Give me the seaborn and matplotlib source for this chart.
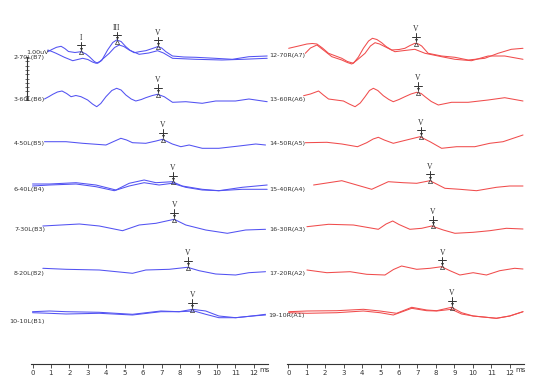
import matplotlib
matplotlib.use("Agg")
import matplotlib.pyplot as plt
import seaborn as sns
import pandas as pd

# ---------------- data (time in ms, amplitude in display units, 1.00 uV = 43) ----------------
left_labels = ["2-70L(B7)", "3-60L(B6)", "4-50L(B5)", "6-40L(B4)", "7-30L(B3)", "8-20L(B2)", "10-10L(B1)"]
right_labels = ["12-70R(A7)", "13-60R(A6)", "14-50R(A5)", "15-40R(A4)", "16-30R(A3)", "17-20R(A2)", "19-10R(A1)"]
tick_ms = list(range(13))

# left ear
b7_time_1 = [0.83, 1.05, 1.3, 1.55, 1.75, 1.95, 2.3, 2.63, 2.9, 3.1, 3.35, 3.53, 3.75, 4.07, 4.35, 4.56, 4.8,
             5.06, 5.3, 5.51, 5.85, 6.14, 6.5, 6.78, 7.0, 7.23, 7.59, 8.2, 8.85, 9.9, 10.83, 11.73, 12.72]
b7_amp_1 = [6.3, 8.5, 10.7, 11.7, 9.5, 6.5, 5.5, 6.3, 4, 1, -3.5, -5.3, -2.5, 8, 15.5, 18, 16.5,
            11.3, 7.5, 5.3, 6.5, 7.3, 9.5, 11.3, 10, 6.3, 2, 1, 0.7, -0.3, -1.3, 1.3, 2]
b7_time_2 = [0.83, 1.05, 1.28, 1.73, 2.18, 2.72, 3.0, 3.25, 3.45, 3.65, 3.9, 4.16, 4.45, 4.70, 4.95, 5.24,
             5.78, 6.3, 6.78, 7.1, 7.59, 8.85, 10.27, 11.4, 12.72]
b7_amp_2 = [8, 6.5, 4.7, 0.7, -2.7, -0.3, -1.5, -4, -5.3, -3.5, 0.5, 4.7, 10.5, 13, 11.5, 8,
            3.7, 5, 7.3, 5, -0.3, -1.3, -2, -1.3, -0.3]
b6_time = [0.65, 0.9, 1.10, 1.35, 1.60, 1.85, 2.09, 2.35, 2.63, 2.99, 3.25, 3.48, 3.7, 3.98, 4.3, 4.56, 4.8,
           5.06, 5.35, 5.6, 5.9, 6.14, 6.5, 6.78, 7.14, 7.59, 8.31, 9.2, 9.93, 11.0, 11.73, 12.72]
b6_amp = [1, 3.5, 5.7, 8, 9, 6.5, 3.3, 4.5, 3.3, 0, -4, -6.7, -3.5, 3.3, 9.5, 11.7, 10,
          5, 1, -1, 0.5, 2.3, 4.5, 5.7, 3.3, -2.3, -1.7, -3.3, -1, -1, 1, -1.7]
b5_time = [0.65, 1.82, 2.72, 3.98, 4.4, 4.79, 5.1, 5.42, 6.14, 6.7, 7.05, 7.58, 8.04, 8.49, 9.2, 10.1, 11.2, 12.1, 12.63]
b5_amp = [2.3, 2.3, 0.7, -1, 2.5, 5.7, 4, 1.3, 0.7, 3, 4.7, 0, -2.7, -1, -4.3, -4.3, -2, 0, -1]
b4_time_1 = [0, 0.92, 2.36, 3.44, 4.52, 5.24, 6.05, 6.69, 7.58, 8.12, 9.2, 10.1, 11.37, 12.72]
b4_amp_1 = [6, 6, 7.3, 5, 0, 6.7, 10, 7.3, 8.3, 4, 0.7, -0.7, 2.7, 5]
b4_time_2 = [0, 0.92, 2.36, 3.44, 4.43, 5.24, 6.05, 6.86, 7.58, 8.3, 9.2, 10.1, 11.37, 12.72]
b4_amp_2 = [4, 5, 6, 3.3, -0.7, 4, 7.3, 5, 6.7, 2.7, 0, -0.7, 0.7, 0.7]
b3_time = [0.56, 2.54, 3.62, 4.88, 5.78, 6.69, 7.68, 8.31, 9.39, 10.56, 11.55, 12.63]
b3_amp = [4, 6, 4, -0.7, 5, 6.7, 10.7, 5, 0, -3.3, 0, 0.7]
b2_time = [0.56, 1.82, 3.62, 5.42, 6.14, 7.41, 8.4, 9.03, 9.93, 11.01, 11.73, 12.63]
b2_amp = [4.7, 3.7, 3, -0.3, 3, 3.7, 5.7, 2.3, -1, -2, 0.3, 1.3]
b1_time_1 = [0, 0.92, 1.82, 3.62, 5.42, 6.96, 7.95, 8.67, 9.39, 10.1, 11.01, 11.91, 12.63]
b1_amp_1 = [9.3, 10, 9.3, 8.7, 6.7, 10, 9.3, 11.7, 10, 5, 3.3, 5, 6.7]
b1_time_2 = [0, 0.92, 1.82, 3.62, 5.42, 6.96, 7.95, 8.76, 9.39, 10.1, 11.01, 11.91, 12.63]
b1_amp_2 = [8.3, 7.7, 7, 7.7, 6, 9.3, 9.3, 10, 6.7, 3.3, 3.3, 5, 6]

# right ear
a7_time_1 = [0.02, 0.56, 1.01, 1.3, 1.55, 1.85, 2.18, 2.9, 3.2, 3.53, 3.8, 4.07, 4.35, 4.56, 4.8, 5.06,
             5.3, 5.6, 6.0, 6.32, 6.6, 6.86, 7.05, 7.23, 7.58, 8.31, 9.03, 9.75, 10.65, 11.37, 12.09, 12.72]
a7_amp_1 = [6.7, 9, 11, 11.5, 11, 7, 1.7, -3.3, -6.5, -8.3, -2, 6.7, 14, 16.7, 15.5, 12.3,
            8.5, 5, 5.5, 6.7, 9.5, 11.7, 11, 9, 1.7, -1, -2.3, -5, -3.3, 1.7, 5.7, 6.7]
a7_time_2 = [0.92, 1.2, 1.55, 1.9, 2.36, 2.9, 3.2, 3.44, 3.7, 4.16, 4.45, 4.7, 4.95, 5.24, 5.78, 6.3,
             6.86, 7.41, 8.31, 9.03, 9.93, 10.83, 11.73, 12.72]
a7_amp_2 = [1.7, 7, 10, 5, -1.7, -5, -7.5, -9, -5.5, 1.7, 9, 12.3, 11, 8.3, 3.3, 4.5,
            5.7, 1.7, -1.7, -4.3, -5.7, -1, -1, -4.3]
a6_time = [0.83, 1.2, 1.64, 1.9, 2.18, 2.99, 3.3, 3.62, 3.9, 4.16, 4.4, 4.61, 4.85, 5.15, 5.45, 5.69, 6.0,
           6.32, 6.65, 6.96, 7.2, 7.41, 7.75, 8.13, 8.85, 9.75, 10.83, 11.73, 12.72]
a6_amp = [4.3, 6, 9, 5, 1, -1, -4, -6.7, -3, 3.3, 9.5, 11.7, 9.5, 4.3, 0.5, -1.7, 0.5,
          3.3, 6, 7.7, 6.5, 3.3, -1.5, -5, -2.3, -2.3, 0, 2.3, -1]
a5_time = [0.92, 2.09, 2.9, 3.75, 4.25, 4.6, 4.88, 5.2, 5.69, 6.41, 7.14, 7.68, 8.31, 9.12, 10.11, 10.92, 11.64, 12.72]
a5_amp = [0.3, 0.7, -1, -3.7, 0.3, 4, 5.7, 3, -0.3, 3, 6.3, 1.3, -5.3, -3.7, -3.7, -0.3, 1.3, 8]
a4_time = [1.37, 2.9, 3.71, 4.52, 5.42, 6.23, 6.96, 7.68, 8.49, 9.3, 10.2, 11.28, 12.0, 12.72]
a4_amp = [5, 9.3, 5, 0.7, 8.3, 7.3, 6.7, 9.3, 1.7, 0.7, -0.7, 2.7, 4, 4]
a3_time = [1.01, 2.18, 3.53, 4.88, 5.3, 5.66, 6.0, 6.59, 7.23, 7.77, 8.4, 9.03, 10.02, 10.92, 11.82, 12.72]
a3_amp = [3.3, 5.7, 5, 0.7, 6, 9, 5.5, 0.7, 1.7, 4, 0, -3.3, -2.3, -0.7, 1.7, 1]
a2_time = [1.01, 2.09, 3.35, 4.25, 5.24, 5.7, 6.14, 6.96, 7.68, 8.31, 8.76, 9.3, 10.02, 10.74, 11.46, 12.27, 12.72]
a2_amp = [4, 1.3, 2.3, -0.3, -1, 4.5, 8, 4.7, 5.7, 7.3, 3.3, -1, 1.3, -1, 3.3, 5.7, 5]
a1_time_1 = [0.02, 1.01, 2.63, 4.07, 4.97, 5.87, 6.69, 7.5, 8.04, 8.85, 9.39, 10.02, 11.28, 12.0, 12.72]
a1_amp_1 = [4.3, 5, 5.3, 6.7, 5, 2.7, 8.7, 6, 5.3, 8.7, 3.3, 0, -2.3, 0, 4.3]
a1_time_2 = [0.02, 1.01, 2.63, 4.07, 4.97, 5.69, 6.69, 7.5, 8.04, 8.85, 9.39, 10.02, 11.28, 12.0, 12.72]
a1_amp_2 = [3.3, 2.7, 3.3, 5, 3.3, 1, 7.7, 5.3, 5, 6.7, 2, 0, -2.3, 0, 4.3]

# wave markers: row, latency (ms), amplitude, name
left_peak_row = [0, 0, 0, 1, 2, 3, 4, 5, 6]
left_peak_ms = [2.63, 4.56, 6.78, 6.78, 7.05, 7.62, 7.68, 8.43, 8.67]
left_peak_amp = [6.3, 16.5, 11.3, 5.7, 4.7, 8, 10.7, 5.7, 11.7]
left_peak_name = ["I", "III", "V", "V", "V", "V", "V", "V", "V"]
right_peak_row = [0, 1, 2, 3, 4, 5, 6]
right_peak_ms = [6.9, 7.01, 7.17, 7.68, 7.82, 8.34, 8.85]
right_peak_amp = [11.7, 7.7, 6.3, 9.3, 4, 7.3, 8.7]
right_peak_name = ["V"] * 7

left_traces = [(0, b7_time_1, b7_amp_1), (0, b7_time_2, b7_amp_2), (1, b6_time, b6_amp),
               (2, b5_time, b5_amp), (3, b4_time_1, b4_amp_1), (3, b4_time_2, b4_amp_2),
               (4, b3_time, b3_amp), (5, b2_time, b2_amp), (6, b1_time_1, b1_amp_1), (6, b1_time_2, b1_amp_2)]
right_traces = [(0, a7_time_1, a7_amp_1), (0, a7_time_2, a7_amp_2), (1, a6_time, a6_amp),
                (2, a5_time, a5_amp), (3, a4_time, a4_amp), (4, a3_time, a3_amp),
                (5, a2_time, a2_amp), (6, a1_time_1, a1_amp_1), (6, a1_time_2, a1_amp_2)]

# ---------------- layout ----------------
W, H = 542, 389
AXIS_Y = 364
PX_MS = 18.45
left_rows_y = [58, 100, 144, 190, 230, 273, 321]
right_rows_y = [55, 100, 143, 190, 230, 274, 316]
BLUE = "#5252f2"
RED = "#f04c4c"
INK = "#333333"

sns.set_style("white")
plt.rcParams["font.family"] = ["DejaVu Sans"]

fig = plt.figure(figsize=(W / 100, H / 100), dpi=100)


def make_axes(x0, x1, zero_px):
    ax = fig.add_axes([x0 / W, (H - AXIS_Y) / H, (x1 - x0) / W, AXIS_Y / H])
    ax.set_xlim((x0 - zero_px) / PX_MS, (x1 - zero_px) / PX_MS)
    ax.set_ylim(AXIS_Y, 0)
    for s in ["top", "right", "left"]:
        ax.spines[s].set_visible(False)
    ax.spines["bottom"].set_linewidth(0.8)
    ax.spines["bottom"].set_color(INK)
    ax.set_xticks(tick_ms)
    ax.set_yticks([])
    ax.tick_params(axis="x", direction="out", length=3, width=0.6, color=INK,
                   labelsize=5, pad=1.5, labelcolor=INK, bottom=True)
    ax.text(12.6, AXIS_Y + 5.5, "ms", fontsize=5, color=INK, ha="center", va="center", clip_on=False)
    ax.set_facecolor("none")
    return ax


def draw_side(ax, traces, rows_y, labels, color, label_ms, pk_row, pk_ms, pk_amp, pk_name):
    recs = []
    for i, (row, ts, amps) in enumerate(traces):
        for t, a in zip(ts, amps):
            recs.append({"trace": i, "time": t, "y": rows_y[row] - a})
    df = pd.DataFrame(recs)
    sns.lineplot(data=df, x="time", y="y", units="trace", estimator=None,
                 color=color, lw=0.75, ax=ax, legend=False)
    ax.set_xlabel("")
    ax.set_ylabel("")
    for lab, y in zip(labels, rows_y):
        ax.text(label_ms, y, lab, fontsize=4.6, color=INK, ha="right", va="center", clip_on=False)
    for r, t, a, name in zip(pk_row, pk_ms, pk_amp, pk_name):
        yp = rows_y[r] - a
        ax.text(t, yp - 14, name, fontsize=5.5, color=INK, ha="center", va="center",
                family="Liberation Serif")
        ax.plot([t, t], [yp - 10, yp - 2.5], color=INK, lw=0.7)
        ax.plot([t - 0.22, t + 0.22], [yp - 6.5, yp - 6.5], color=INK, lw=0.7)
        ax.plot([t], [yp - 3.2], marker="v", ms=2.2, color=INK, mew=0)
        ax.plot([t], [yp + 0.3], marker="^", ms=3, mfc="none", mec=INK, mew=0.5)


ax_l = make_axes(31, 268, 32.5)
ax_r = make_axes(286.7, 524.3, 288.3)
draw_side(ax_l, left_traces, left_rows_y, left_labels, BLUE, (45 - 32.5) / PX_MS,
          left_peak_row, left_peak_ms, left_peak_amp, left_peak_name)
draw_side(ax_r, right_traces, right_rows_y, right_labels, RED, (305 - 288.3) / PX_MS,
          right_peak_row, right_peak_ms, right_peak_amp, right_peak_name)

# amplitude scale bar (1.00 uV)
bar_x = (26.7 - 32.5) / PX_MS
ax_l.plot([bar_x, bar_x], [57, 100], color=INK, lw=0.8, clip_on=False)
ax_l.plot([bar_x] * 11, [57 + 4.3 * k for k in range(11)], ls="none", marker="_", ms=2.5,
          mew=0.5, color=INK, clip_on=False)
ax_l.text((49 - 32.5) / PX_MS, 52.5, "1.00uV", fontsize=4.6, color=INK, ha="right", va="center", clip_on=False)
ax_l.text((21 - 32.5) / PX_MS, 54, ". .", fontsize=4, color=INK, ha="right", va="center", clip_on=False)

fig.savefig("out.png", dpi=100, facecolor="white")
